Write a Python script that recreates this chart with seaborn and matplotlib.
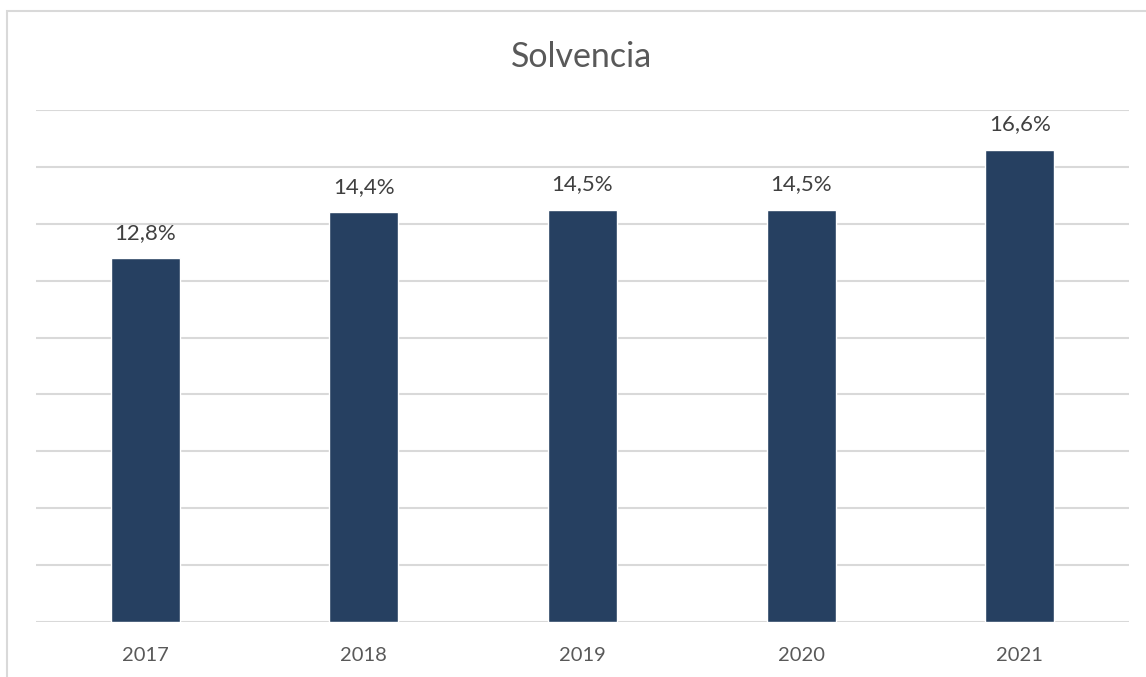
import matplotlib
matplotlib.use("Agg")
import matplotlib.pyplot as plt
import seaborn as sns
import pandas as pd
from matplotlib.patches import Rectangle

years = ["2017", "2018", "2019", "2020", "2021"]
values = [12.8, 14.4, 14.5, 14.5, 16.6]
labels = ["12,8%", "14,4%", "14,5%", "14,5%", "16,6%"]

sns.set_theme(style="white")
plt.rcParams['font.family'] = ['Lato', 'DejaVu Sans']

df = pd.DataFrame({"year": years, "value": values})

fig = plt.figure(figsize=(11.46, 6.77), dpi=100)
ax = fig.add_axes([36/1146, 55/677, (1129-36)/1146, (622-110)/677])

sns.barplot(data=df, x="year", y="value", color="#264061", width=0.315,
            saturation=1, ax=ax, zorder=3)

ax.set_ylim(0, 18)
ax.set_xlim(-0.5, 4.5)
ax.set_yticks(range(0, 19, 2))
ax.yaxis.grid(True, color="#d9d9d9", linewidth=1.5, zorder=0)
ax.set_axisbelow(True)
ax.tick_params(axis="y", left=False, labelleft=False)
ax.tick_params(axis="x", bottom=False, labelsize=14.5, colors="#595959", pad=12)
for s in ax.spines.values():
    s.set_visible(False)
ax.set_xlabel("")
ax.set_ylabel("")

for i, (v, lab) in enumerate(zip(values, labels)):
    ax.annotate(lab, (i, v), xytext=(0, 11), textcoords="offset points",
                ha="center", va="bottom", fontsize=16, color="#404040")

fig.text(582/1146, 1 - 57/677, "Solvencia", ha="center", va="center",
         fontsize=24.5, color="#595959")

fig.patches.append(Rectangle((7/1146, -0.1), 1.2, 1 - 11/677 + 0.1,
                             transform=fig.transFigure, fill=False,
                             edgecolor="#d9d9d9", linewidth=1.5))

fig.savefig("out.png", dpi=100)
